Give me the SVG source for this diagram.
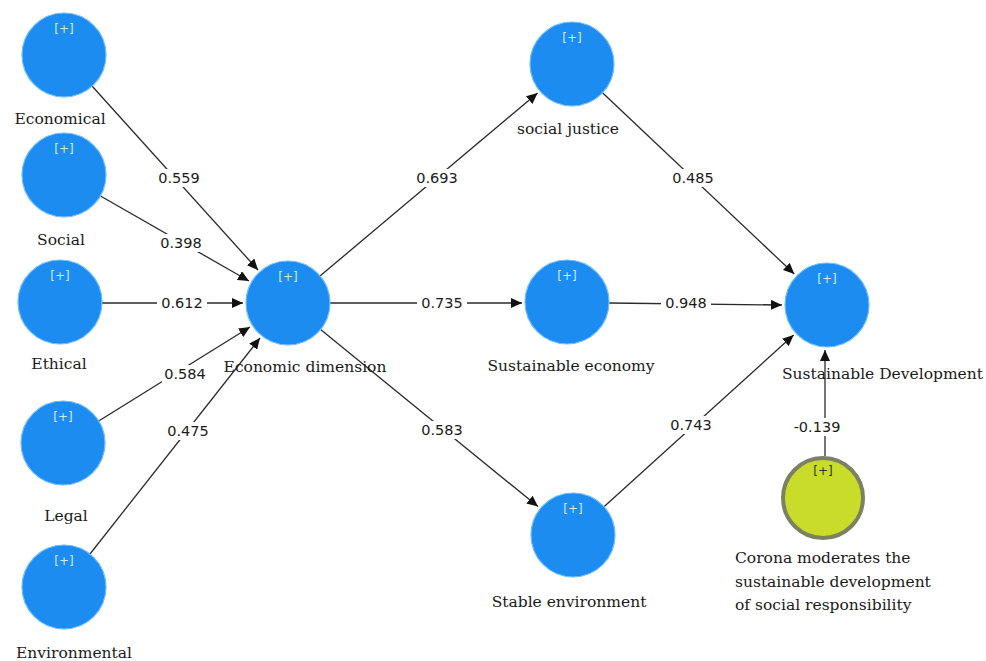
<svg xmlns="http://www.w3.org/2000/svg" width="986" height="661" viewBox="0 0 986 661">
<style>
.lv{fill:#1c8cf0;stroke:#6cbcff;stroke-width:1.2}
.mod{fill:#cadc2a;stroke:#7b8162;stroke-width:4}
.pl{font-family:"DejaVu Sans",sans-serif;font-size:12px;fill:#cfeaff;text-anchor:middle}
.plm{font-family:"DejaVu Sans",sans-serif;font-size:12px;fill:#333;text-anchor:middle}
.nm{font-family:"DejaVu Serif","Liberation Serif",serif;font-size:15.5px;fill:#1a1a1a;text-anchor:middle}
.nl{font-family:"DejaVu Serif","Liberation Serif",serif;font-size:15.5px;fill:#1a1a1a}
.e{stroke:#2a2a2a;stroke-width:1.3;fill:none;marker-end:url(#ah)}
.bg{fill:#fff}
.w{font-family:"DejaVu Sans",sans-serif;font-size:14.5px;fill:#1a1a1a;text-anchor:middle}
</style>
<defs>
<marker id="ah" markerUnits="userSpaceOnUse" markerWidth="12" markerHeight="10" refX="11" refY="5" orient="auto">
<path d="M0,0 L11,5 L0,10 Z" fill="#111"/>
</marker>
</defs>
<rect width="986" height="661" fill="#fff"/>
<g id="connectors">
<line class="e" x1="92" y1="86" x2="258" y2="270"/>
<line class="e" x1="100.5" y1="196" x2="249" y2="281"/>
<line class="e" x1="102" y1="303" x2="243" y2="303"/>
<line class="e" x1="98.7" y1="421" x2="250" y2="327"/>
<line class="e" x1="90" y1="554" x2="260" y2="338"/>
<line class="e" x1="320" y1="276" x2="537.6" y2="93"/>
<line class="e" x1="330" y1="303" x2="522" y2="303"/>
<line class="e" x1="320.6" y1="329.5" x2="538" y2="506.6"/>
<line class="e" x1="602.5" y1="92.8" x2="794.3" y2="274"/>
<line class="e" x1="609" y1="303" x2="782" y2="305"/>
<line class="e" x1="604" y1="506.8" x2="793.6" y2="335"/>
<line class="e" x1="825" y1="456" x2="825" y2="350"/>
<g id="edge-labels">
<rect class="bg" x="156" y="169" width="46" height="18"/><text class="w" x="179" y="183">0.559</text>
<rect class="bg" x="158" y="234" width="46" height="18"/><text class="w" x="181" y="248">0.398</text>
<rect class="bg" x="157" y="294" width="50" height="18"/><text class="w" x="182" y="308">0.612</text>
<rect class="bg" x="162" y="365" width="46" height="18"/><text class="w" x="185" y="379">0.584</text>
<rect class="bg" x="165" y="422" width="46" height="18"/><text class="w" x="188" y="436">0.475</text>
<rect class="bg" x="414" y="169" width="46" height="18"/><text class="w" x="437" y="183">0.693</text>
<rect class="bg" x="670" y="169" width="46" height="18"/><text class="w" x="693" y="183">0.485</text>
<rect class="bg" x="417" y="294" width="50" height="18"/><text class="w" x="442" y="308">0.735</text>
<rect class="bg" x="661" y="294" width="50" height="18"/><text class="w" x="686" y="308">0.948</text>
<rect class="bg" x="419" y="421" width="46" height="18"/><text class="w" x="442" y="435">0.583</text>
<rect class="bg" x="668" y="416" width="46" height="18"/><text class="w" x="691" y="430">0.743</text>
<rect class="bg" x="791" y="418" width="52" height="18"/><text class="w" x="817" y="432">-0.139</text>
</g>
</g>
<g id="economical"><circle class="lv" cx="64" cy="55" r="42"/><text class="pl" x="64" y="33">[+]</text><text class="nm" x="60" y="124">Economical</text></g>
<g id="social"><circle class="lv" cx="64" cy="175" r="42"/><text class="pl" x="64" y="153">[+]</text><text class="nm" x="61" y="245">Social</text></g>
<g id="ethical"><circle class="lv" cx="60" cy="302" r="42"/><text class="pl" x="60" y="280">[+]</text><text class="nm" x="59" y="369">Ethical</text></g>
<g id="legal"><circle class="lv" cx="63" cy="443" r="42"/><text class="pl" x="63" y="421">[+]</text><text class="nm" x="66" y="521">Legal</text></g>
<g id="environmental"><circle class="lv" cx="64" cy="587" r="42"/><text class="pl" x="64" y="565">[+]</text><text class="nm" x="74" y="658">Environmental</text></g>
<g id="economic-dimension"><circle class="lv" cx="288" cy="303" r="42"/><text class="pl" x="288" y="281">[+]</text><text class="nm" x="305" y="372">Economic dimension</text></g>
<g id="social-justice"><circle class="lv" cx="572" cy="64" r="42"/><text class="pl" x="572" y="42">[+]</text><text class="nm" x="568" y="134">social justice</text></g>
<g id="sustainable-economy"><circle class="lv" cx="567" cy="302" r="42"/><text class="pl" x="567" y="280">[+]</text><text class="nm" x="571" y="371">Sustainable economy</text></g>
<g id="stable-environment"><circle class="lv" cx="573" cy="535" r="42"/><text class="pl" x="573" y="513">[+]</text><text class="nm" x="569" y="607">Stable environment</text></g>
<g id="sustainable-development"><circle class="lv" cx="827" cy="305" r="42"/><text class="pl" x="827" y="283">[+]</text><text class="nl" x="782" y="379">Sustainable Development</text></g>
<g id="corona"><circle class="mod" cx="823" cy="498" r="40"/><text class="plm" x="823" y="475">[+]</text>
<text class="nl" x="735" y="563">Corona moderates the</text>
<text class="nl" x="735" y="587">sustainable development</text>
<text class="nl" x="735" y="610">of social responsibility</text></g>
</svg>
